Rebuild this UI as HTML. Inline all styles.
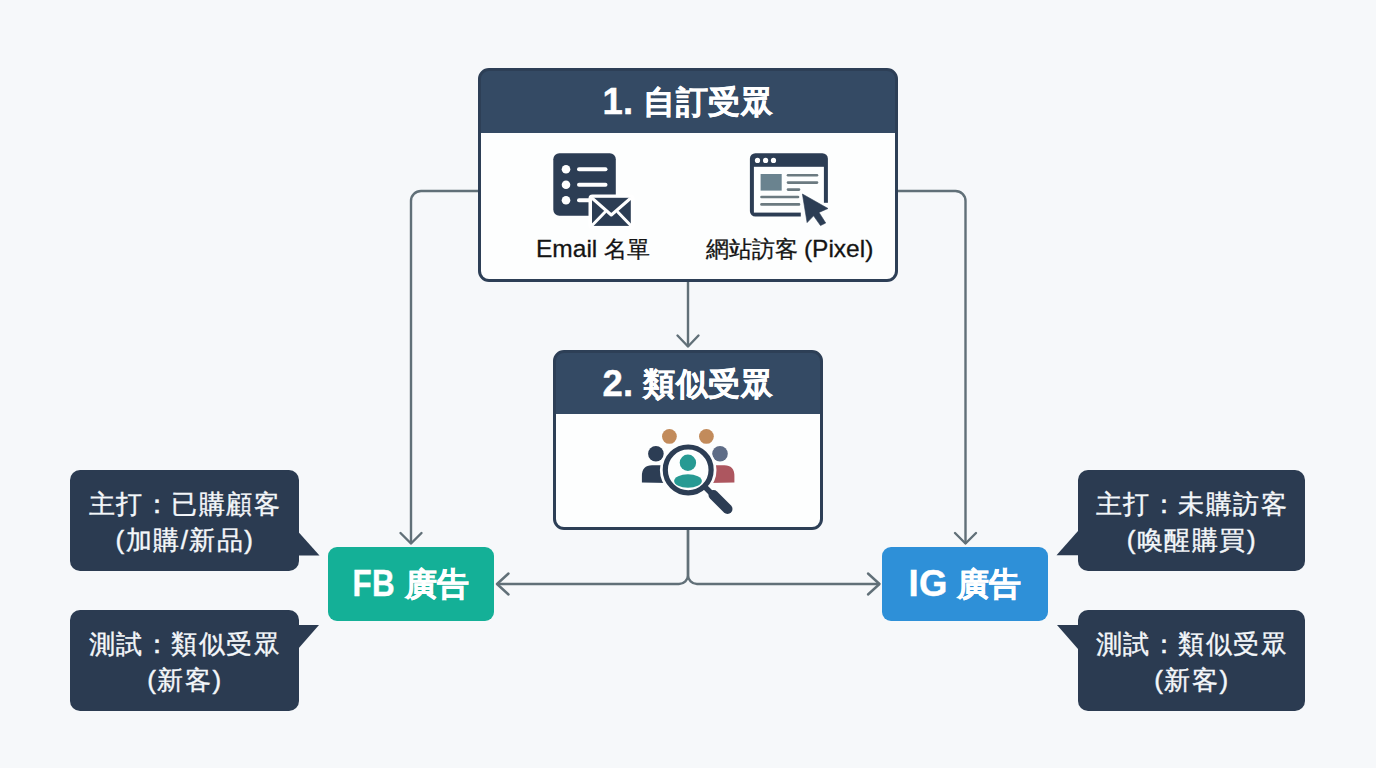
<!DOCTYPE html>
<html lang="zh-Hant-TW">
<head>
<meta charset="utf-8">
<title>Audience Flow</title>
<style>
*{margin:0;padding:0;box-sizing:border-box;}
html,body{width:1376px;height:768px;overflow:hidden;}
body{background:#f6f8fa;font-family:"Liberation Sans",sans-serif;position:relative;}
.abs{position:absolute;}
.card{position:absolute;border:3px solid #2d3f56;border-radius:11px;background:#344a64;}
.card .hd{position:absolute;left:0;top:0;right:0;color:#fff;font-weight:bold;-webkit-text-stroke:0.4px #fff;font-size:32px;letter-spacing:0.6px;text-align:center;}
.card .bd{position:absolute;left:0;right:0;bottom:0;background:#fdfefe;border-radius:0 0 8px 8px;}
.lbl{position:absolute;font-size:23px;color:#141414;white-space:nowrap;font-weight:500;-webkit-text-stroke:0.3px #141414;}
.ad{position:absolute;border-radius:9px;color:#fff;font-weight:bold;-webkit-text-stroke:0.4px #fff;font-size:32px;letter-spacing:0.3px;text-align:center;line-height:72px;}
.co{position:absolute;background:#2b3b51;border-radius:10px;color:#f4f7fa;font-size:26px;letter-spacing:1.5px;font-weight:500;-webkit-text-stroke:0.4px #f4f7fa;padding-left:1.5px;text-align:center;line-height:36px;}
.la{font-size:36.5px;letter-spacing:0.4px;position:relative;top:1px;}
.fb{display:inline-block;transform:scaleX(0.86);margin:0 -3px;letter-spacing:0.5px;}
.ll{font-size:24.5px;}
svg.lines{position:absolute;left:0;top:0;}
</style>
</head>
<body>

<svg class="lines" width="1376" height="768" viewBox="0 0 1376 768">
  <g fill="none" stroke="#617078" stroke-width="2.4" stroke-linecap="round" stroke-linejoin="round">
    <!-- left branch from box1 to FB -->
    <path d="M479 191 H421 A10 10 0 0 0 411 201 V543"/>
    <path d="M400.5 533 L411 543.5 L421.5 533"/>
    <!-- right branch from box1 to IG -->
    <path d="M897 191 H955.5 A10 10 0 0 1 965.5 201 V543"/>
    <path d="M955 533 L965.5 543.5 L976 533"/>
    <!-- center arrow box1 to box2 -->
    <path d="M688 282 V346"/>
    <path d="M677.5 335.5 L688 346.5 L698.5 335.5"/>
    <!-- box2 to FB / IG -->
    <path d="M688 530 V575 A9 9 0 0 1 679 584 H498"/>
    <path d="M688 530 V575 A9 9 0 0 0 697 584 H879"/>
    <path d="M508.5 573.5 L497 584 L508.5 594.5"/>
    <path d="M868 573.5 L879.5 584 L868 594.5"/>
  </g>
</svg>

<!-- Box 1 -->
<div class="card" style="left:478px;top:68px;width:420px;height:214px;">
  <div class="hd" style="height:62px;line-height:59.5px;"><span class="la">1.</span> 自訂受眾</div>
  <div class="bd" style="top:62px;"></div>
</div>
<div class="lbl" style="left:536px;top:234px;"><span class="ll">Email</span> 名單</div>
<div class="lbl" style="left:705.5px;top:234px;">網站訪客 <span class="ll">(Pixel)</span></div>

<!-- Box 2 -->
<div class="card" style="left:553px;top:350px;width:270px;height:180px;">
  <div class="hd" style="height:61px;line-height:60px;"><span class="la">2.</span> 類似受眾</div>
  <div class="bd" style="top:61px;"></div>
</div>

<!-- Ad boxes -->
<div class="ad" style="left:328px;top:547px;width:166px;height:74px;background:#14b097;"><span class="la fb">FB</span> 廣告</div>
<div class="ad" style="left:882px;top:547px;width:166px;height:74px;background:#2e90d8;"><span class="la">IG</span> 廣告</div>

<!-- Callouts -->
<div class="co" style="left:70px;top:470px;width:228.5px;height:101px;padding-top:15.5px;">主打：已購顧客<br>(加購/新品)</div>
<div class="co" style="left:70px;top:610px;width:228.5px;height:100.5px;padding-top:15.5px;">測試：類似受眾<br>(新客)</div>
<div class="co" style="left:1077.5px;top:470px;width:227.5px;height:101px;padding-top:15.5px;">主打：未購訪客<br>(喚醒購買)</div>
<div class="co" style="left:1077.5px;top:610px;width:227.5px;height:100.5px;padding-top:15.5px;">測試：類似受眾<br>(新客)</div>

<!-- Icons -->
<svg class="lines" width="1376" height="768" viewBox="0 0 1376 768">
  <!-- email list icon -->
  <rect x="553.3" y="153.3" width="62.5" height="62.5" rx="6" fill="#2c3d54"/>
  <g fill="#fff">
    <circle cx="566" cy="169.3" r="4.3"/>
    <circle cx="566" cy="184.8" r="4.3"/>
    <circle cx="566" cy="200.3" r="4.3"/>
  </g>
  <g stroke="#fff" stroke-width="4" stroke-linecap="round">
    <path d="M579 169.3 H605.5"/>
    <path d="M579 184.8 H605.5"/>
    <path d="M579 200.3 H600"/>
  </g>
  <rect x="588.5" y="194.5" width="46" height="35" rx="4" fill="#fff"/>
  <rect x="592" y="197.8" width="38.8" height="28.1" fill="#2c3d54"/>
  <g fill="none" stroke="#fff" stroke-width="3" stroke-linejoin="round" stroke-linecap="round">
    <path d="M592.5 198.5 L611.3 215 L630.3 198.5"/>
    <path d="M592.5 225 L604.8 212.3"/>
    <path d="M630.3 225 L618 212.3"/>
  </g>
  <!-- browser icon -->
  <rect x="749.9" y="153.2" width="78" height="63.3" rx="5.5" fill="#2c3d54"/>
  <rect x="753.9" y="166.8" width="70" height="45.8" fill="#fdfefe"/>
  <g fill="#fff">
    <circle cx="757.5" cy="160.4" r="2.6"/>
    <circle cx="765.6" cy="160.4" r="2.6"/>
    <circle cx="773.5" cy="160.4" r="2.6"/>
  </g>
  <rect x="760.6" y="174" width="21.1" height="16.6" fill="#6a838f"/>
  <g stroke="#6b7a80" stroke-width="2.6" stroke-linecap="round">
    <path d="M788 175.3 H817"/>
    <path d="M788 182.6 H817"/>
    <path d="M788 189.6 H799"/>
    <path d="M761.5 197 H798"/>
    <path d="M761.5 204.4 H799"/>
  </g>
  <!-- white gap for cursor -->
  <rect x="800.8" y="202.8" width="30" height="28" fill="#fdfefe"/>
  <path d="M802.4 194 L828 208.5 L819 212.4 L825.7 223 L820.5 225.6 L813.6 215.8 L807.1 222.6 Z" fill="#2c3d54" stroke="#2c3d54" stroke-width="0.6" stroke-linejoin="round"/>
  <!-- people + magnifier icon -->
  <g>
    <circle cx="669.4" cy="436.4" r="7.4" fill="#c28b5b"/>
    <circle cx="706.4" cy="436.4" r="7.4" fill="#c28b5b"/>
    <circle cx="655.9" cy="453.8" r="7.8" fill="#2c3d54"/>
    <path d="M641.9 482.6 V476 Q641.9 465.2 652 465.2 H668 V483 Z" fill="#2c3d54"/>
    <circle cx="720" cy="453.8" r="7.8" fill="#5e6c86"/>
    <path d="M734.4 482.4 V476 Q734.4 465.2 724.3 465.2 H708 V483 Z" fill="#ad565f"/>
    <circle cx="688.2" cy="469.9" r="28.3" fill="#fdfefe"/>
    <path d="M704 486 L728 510" stroke="#fdfefe" stroke-width="15" stroke-linecap="round"/>
    <path d="M703 485 L714 496" stroke="#2c3d54" stroke-width="5.5" stroke-linecap="round"/>
    <path d="M713.5 495 L727.5 509" stroke="#2c3d54" stroke-width="10" stroke-linecap="round"/>
    <circle cx="688.2" cy="469.9" r="22.9" fill="#fdfefe" stroke="#2c3d54" stroke-width="5.2"/>
    <circle cx="687.9" cy="462.7" r="8.2" fill="#279a93"/>
    <ellipse cx="688" cy="481" rx="13.9" ry="6.7" fill="#279a93"/>
  </g>
</svg>

<svg class="lines" width="1376" height="768" viewBox="0 0 1376 768">
  <g fill="#2b3b51">
    <path d="M298 531.5 L319.5 555.5 L298 555.5 Z"/>
    <path d="M298 625 L319 625 L298 649 Z"/>
    <path d="M1078 531 L1056.5 555.3 L1078 555.3 Z"/>
    <path d="M1078 625 L1057 625 L1078 649 Z"/>
  </g>
</svg>

</body>
</html>
